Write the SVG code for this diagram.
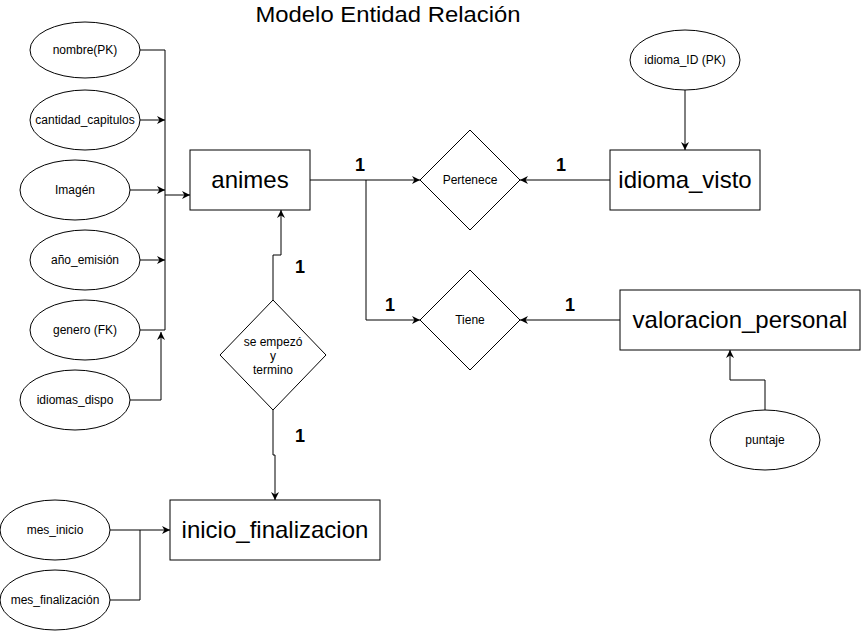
<svg xmlns="http://www.w3.org/2000/svg" width="861" height="631" viewBox="0 0 861 631">
<style>
.shape{fill:#fff;stroke:#000;stroke-width:1}
.ln{fill:none;stroke:#000;stroke-width:1}
.big{font-family:"Liberation Sans",Arial,sans-serif;font-size:24px;text-anchor:middle;fill:#000}
.sm{font-family:"Liberation Sans",Arial,sans-serif;font-size:12px;text-anchor:middle;fill:#000}
.card{font-family:"Liberation Sans",Arial,sans-serif;font-size:18px;font-weight:bold;text-anchor:middle;fill:#000}
.title{font-family:"Liberation Sans",Arial,sans-serif;font-size:22px;text-anchor:middle;fill:#000}
</style>
<defs>
<marker id="arr" viewBox="0 0 10 10" refX="10" refY="5" markerWidth="8" markerHeight="8" markerUnits="userSpaceOnUse" orient="auto">
<path d="M0,0 L10,5 L0,10 L3,5 Z" fill="#000"/>
</marker>
</defs>
<rect width="861" height="631" fill="#fff"/>
<text class="title" x="388" y="22" textLength="265" lengthAdjust="spacingAndGlyphs">Modelo Entidad Relación</text>

<g id="connectors">
<path class="ln" d="M140,50 H165 V330"/>
<path class="ln" d="M140,120 H165" marker-end="url(#arr)"/>
<path class="ln" d="M130,190 H165" marker-end="url(#arr)"/>
<path class="ln" d="M140,260 H165" marker-end="url(#arr)"/>
<path class="ln" d="M140,330 H165"/>
<path class="ln" d="M165,195 H190" marker-end="url(#arr)"/>
<path class="ln" d="M130,400 H161 V332" marker-end="url(#arr)"/>
<path class="ln" d="M273,300 V255 H281 V210" marker-end="url(#arr)"/>
<path class="ln" d="M273,410 V455 H275 V500" marker-end="url(#arr)"/>
<path class="ln" d="M110,530 H170" marker-end="url(#arr)"/>
<path class="ln" d="M110,600 H140 V530"/>
<path class="ln" d="M310,180 H420" marker-end="url(#arr)"/>
<path class="ln" d="M366,180 V320 H420" marker-end="url(#arr)"/>
<path class="ln" d="M610,180 H520" marker-end="url(#arr)"/>
<path class="ln" d="M685,90 V150" marker-end="url(#arr)"/>
<path class="ln" d="M620,320 H520" marker-end="url(#arr)"/>
<path class="ln" d="M765,410 V380 H730 V350" marker-end="url(#arr)"/>
</g>

<g id="labels">
<text class="card" x="360" y="171">1</text>
<text class="card" x="561" y="171">1</text>
<text class="card" x="390" y="311">1</text>
<text class="card" x="570" y="311">1</text>
<text class="card" x="300" y="273">1</text>
<text class="card" x="300" y="442">1</text>
</g>

<g id="nombre"><ellipse class="shape" cx="85" cy="50" rx="55" ry="28"/><text class="sm" x="85" y="54">nombre(PK)</text></g>
<g id="cantidad_capitulos"><ellipse class="shape" cx="85" cy="120" rx="55" ry="30"/><text class="sm" x="85" y="124">cantidad_capitulos</text></g>
<g id="imagen"><ellipse class="shape" cx="75" cy="190" rx="55" ry="30"/><text class="sm" x="75" y="194">Imagén</text></g>
<g id="anio_emision"><ellipse class="shape" cx="85" cy="260" rx="55" ry="30"/><text class="sm" x="85" y="264">año_emisión</text></g>
<g id="genero"><ellipse class="shape" cx="85" cy="330" rx="55" ry="30"/><text class="sm" x="85" y="334">genero (FK)</text></g>
<g id="idiomas_dispo"><ellipse class="shape" cx="75" cy="400" rx="55" ry="30"/><text class="sm" x="75" y="404">idiomas_dispo</text></g>

<g id="animes"><rect class="shape" x="190" y="150" width="120" height="60"/><text class="big" x="250" y="188">animes</text></g>

<g id="se_empezo"><polygon class="shape" points="273,300 326,355 273,410 220,355"/>
<text class="sm" x="273" y="346">se empezó</text><text class="sm" x="273" y="360">y</text><text class="sm" x="273" y="374">termino</text></g>

<g id="inicio_finalizacion"><rect class="shape" x="170" y="500" width="210" height="60"/><text class="big" x="275" y="538">inicio_finalizacion</text></g>
<g id="mes_inicio"><ellipse class="shape" cx="55" cy="530" rx="55" ry="30"/><text class="sm" x="55" y="534">mes_inicio</text></g>
<g id="mes_finalizacion"><ellipse class="shape" cx="55" cy="600" rx="55" ry="30"/><text class="sm" x="55" y="604">mes_finalización</text></g>

<g id="pertenece"><polygon class="shape" points="470,130 520,180 470,230 420,180"/><text class="sm" x="470" y="184">Pertenece</text></g>
<g id="idioma_visto"><rect class="shape" x="610" y="150" width="150" height="60"/><text class="big" x="685" y="188">idioma_visto</text></g>
<g id="idioma_id"><ellipse class="shape" cx="685" cy="60" rx="55" ry="30"/><text class="sm" x="685" y="64">idioma_ID (PK)</text></g>

<g id="tiene"><polygon class="shape" points="470,270 520,320 470,370 420,320"/><text class="sm" x="470" y="324">Tiene</text></g>
<g id="valoracion_personal"><rect class="shape" x="620" y="290" width="240" height="60"/><text class="big" x="740" y="328">valoracion_personal</text></g>
<g id="puntaje"><ellipse class="shape" cx="765" cy="440" rx="55" ry="30"/><text class="sm" x="765" y="444">puntaje</text></g>
</svg>
